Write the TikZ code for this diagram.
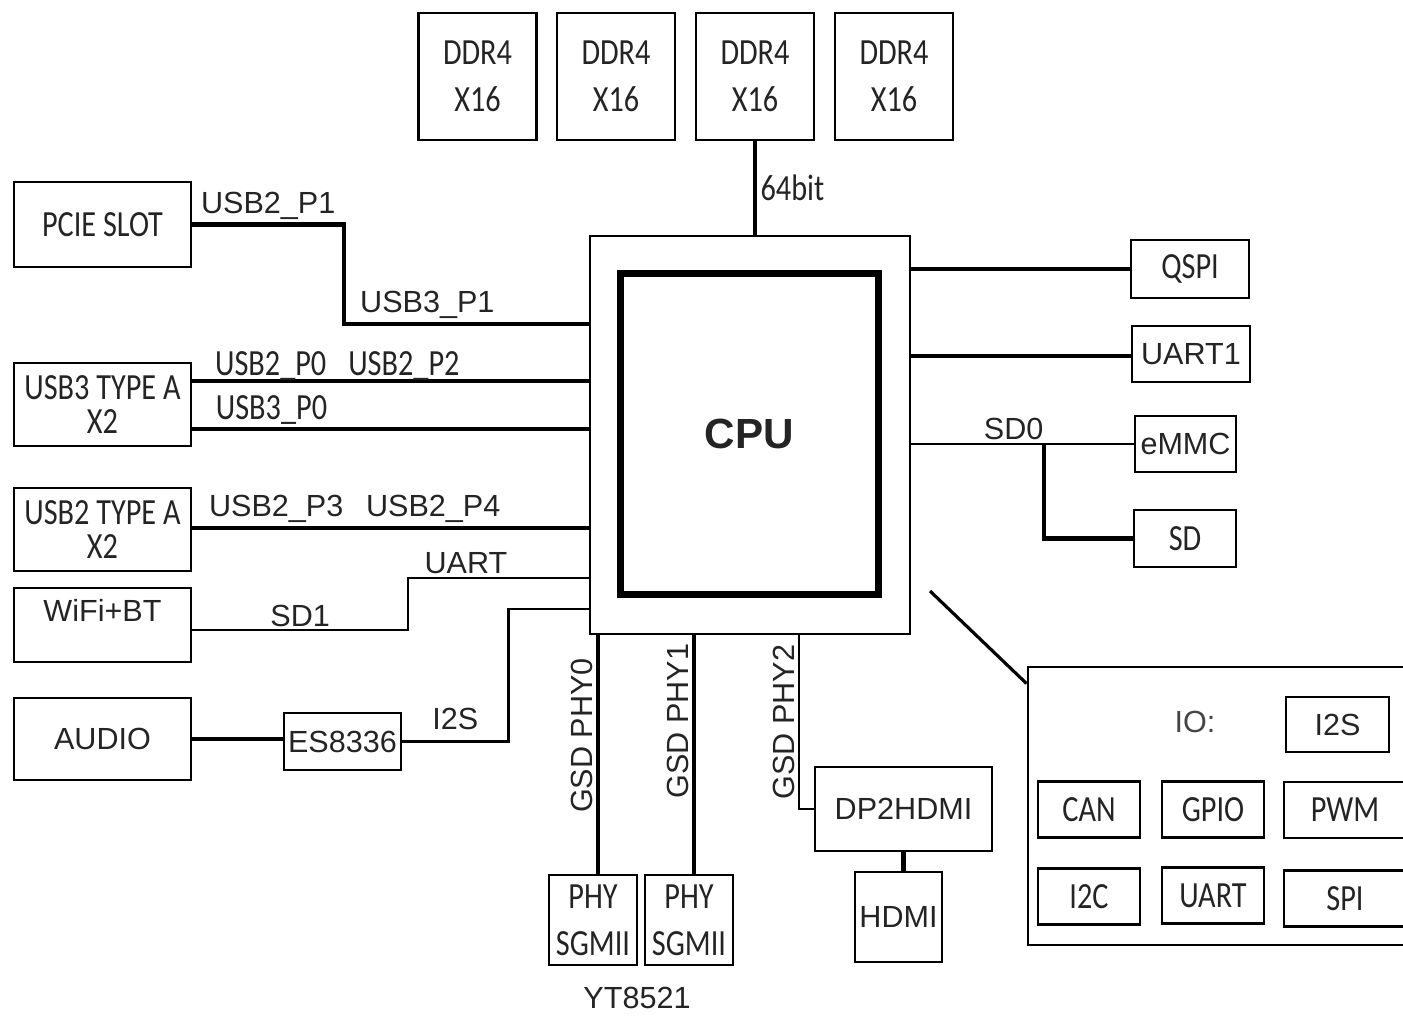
\documentclass[tikz,border=0pt]{standalone}
\usepackage{fontspec}
\setmainfont{Liberation Sans}
\newfontfamily\boxfont[FakeStretch=0.82]{Carlito}
\usetikzlibrary{positioning}
\definecolor{ink}{HTML}{242424}

\begin{document}
\begin{tikzpicture}[every node/.style={text=ink,font=\fontsize{8.7}{10}\selectfont},
  blk/.style={draw,line width=0.7pt,inner sep=1pt,align=center},
  ctxt/.style={font=\boxfont\fontsize{10.5}{13.5}\selectfont},
  tight/.style={font=\boxfont\fontsize{10.5}{9.8}\selectfont},
  cblk/.style={blk,ctxt},
  lbl/.style={above,yshift=-2.5pt},
  vlbl/.style={rotate=90,anchor=south,inner sep=0.8pt},
  bus/.style={line width=1.2pt},
  wire/.style={line width=0.6pt}]
  \useasboundingbox (0,0) rectangle (14.03,-10.16);
  \clip (0,0) rectangle (14.03,-10.16);

  % processor
  \node[draw,line width=0.8pt,minimum width=3.2cm,minimum height=3.98cm] (cpu) at (7.50,-4.35) {};
  \node[draw,line width=2pt,minimum width=2.58cm,minimum height=3.21cm,font=\bfseries\fontsize{12}{14}\selectfont] (core) at (7.495,-4.34) {CPU};

  % memory
  \foreach \i/\x in {1/4.775,2/6.16,3/7.55,4/8.94}
    \node[cblk,minimum width=1.18cm,minimum height=1.27cm] (ddr\i) at (\x,-0.765) {DDR4\\X16};
  \draw[bus] (ddr3.south) -- node[right,ctxt,inner sep=1pt]{64bit} (ddr3.south |- cpu.north);

  % left side
  \node[cblk,minimum width=1.77cm,minimum height=0.85cm] (pcie) at (1.025,-2.245) {PCIE SLOT};
  \node[cblk,tight,minimum width=1.77cm,minimum height=0.83cm] (usb3a) at (1.025,-4.045) {USB3 TYPE A\\X2};
  \node[cblk,tight,minimum width=1.77cm,minimum height=0.83cm] (usb2a) at (1.025,-5.295) {USB2 TYPE A\\X2};
  \node[blk,minimum width=1.77cm,minimum height=0.74cm,text depth=0.3cm] (wifi) at (1.025,-6.25) {WiFi+BT};
  \node[blk,minimum width=1.77cm,minimum height=0.82cm] (audio) at (1.025,-7.39) {AUDIO};
  \node[blk,minimum width=1.17cm,minimum height=0.57cm] (codec) at (3.425,-7.415) {ES8336};

  \foreach \n/\y in {p1/-3.24,p0/-3.81,p0b/-4.29,p34/-5.28,uart/-5.78,i2s/-6.09}
    \coordinate (w\n) at (cpu.west |- 0,\y);

  \draw[bus] (pcie.east) -- node[lbl]{USB2\_P1} ++(1.52,0) |- node[pos=0.67,lbl]{USB3\_P1} (wp1);
  \draw[bus] (usb3a.east |- wp0) -- node[lbl,ctxt,pos=0.198,yshift=-1.2pt]{USB2\_P0} node[lbl,ctxt,pos=0.534,yshift=-1.2pt]{USB2\_P2} (wp0);
  \draw[bus] (usb3a.east |- wp0b) -- node[lbl,ctxt,pos=0.2]{USB3\_P0} (wp0b);
  \draw[bus] (usb2a.east |- wp34) -- node[lbl,pos=0.212]{USB2\_P3} node[lbl,pos=0.608]{USB2\_P4} (wp34);
  \draw[wire] ([yshift=-1.5pt]wifi.east) -- node[lbl]{SD1} ++(2.16,0) |- node[lbl,pos=0.66]{UART} (wuart);
  \draw[bus] (audio.east) -- (audio.east -| codec.west);
  \draw[line width=0.8pt] (codec.east) -- node[lbl,yshift=2pt]{I2S} ++(1.06,0) |- (wi2s);

  % right side
  \node[cblk,minimum width=1.18cm,minimum height=0.58cm] (qspi) at (11.90,-2.69) {QSPI};
  \node[blk,minimum width=1.18cm,minimum height=0.56cm] (uart1) at (11.91,-3.54) {UART1};
  \node[blk,minimum width=1.01cm,minimum height=0.56cm] (emmc) at (11.855,-4.44) {eMMC};
  \node[cblk,minimum width=1.02cm,minimum height=0.57cm] (sd) at (11.85,-5.385) {SD};
  \draw[bus] (qspi.west -| cpu.east) -- (qspi.west);
  \draw[bus] ([yshift=-0.6pt]uart1.west -| cpu.east) -- ([yshift=-0.6pt]uart1.west);
  \draw[wire] (emmc.west -| cpu.east) -- node[lbl,pos=0.46]{SD0} (emmc.west);
  \coordinate (tap) at (emmc.west -| 10.44,0);
  \draw[bus] (tap) |- (sd.west);

  % bottom
  \node[cblk,minimum width=0.88cm,minimum height=0.9cm] (phy0) at (5.93,-9.20) {PHY\\SGMII};
  \node[cblk,minimum width=0.88cm,minimum height=0.9cm] (phy1) at (6.89,-9.20) {PHY\\SGMII};
  \node (yt) at (6.37,-9.98) {YT8521};
  \node[blk,minimum width=1.77cm,minimum height=0.84cm] (dp) at (9.035,-8.09) {DP2HDMI};
  \node[blk,minimum width=0.87cm,minimum height=0.9cm] (hdmi) at (8.985,-9.17) {HDMI};
  \coordinate (s2) at (cpu.south -| 7.99,0);

  \draw[bus] ([xshift=1.4pt]phy0.north) -- node[pos=0.58,vlbl]{GSD PHY0} ([xshift=1.4pt]phy0.north |- cpu.south);
  \draw[bus] ([xshift=1.4pt]phy1.north) -- node[pos=0.64,vlbl]{GSD PHY1} ([xshift=1.4pt]phy1.north |- cpu.south);
  \draw[wire] (dp.west) -| node[pos=0.75,vlbl]{GSD PHY2} (s2);
  \draw[bus] (dp.south) -- (dp.south |- hdmi.north);

  % io group
  \node[draw,line width=0.8pt,minimum width=4.4cm,minimum height=2.78cm] (iobox) at (12.48,-8.06) {};
  \node[text=ink!85] (iolbl) at (11.95,-7.22) {IO:};
  \node[blk,minimum width=1.03cm,minimum height=0.55cm] (ioi2s) at (13.375,-7.245) {I2S};
  \foreach \n/\t/\x/\y/\w in {can/CAN/10.89/-8.095/1.02, gpio/GPIO/12.13/-8.095/1.02, pwm/PWM/13.45/-8.10/1.22,
      i2c/I2C/10.89/-8.965/1.02, uart/UART/12.13/-8.955/1.02, spi/SPI/13.45/-8.985/1.22}
    \node[cblk,minimum width=\w cm,minimum height=0.56cm] (\n) at (\x,\y) {\t};
  \coordinate (diag) at (9.30,-5.91);
  \draw[line width=0.9pt] (diag) -- ([yshift=-0.18cm]iobox.north west);
\end{tikzpicture}
\end{document}
